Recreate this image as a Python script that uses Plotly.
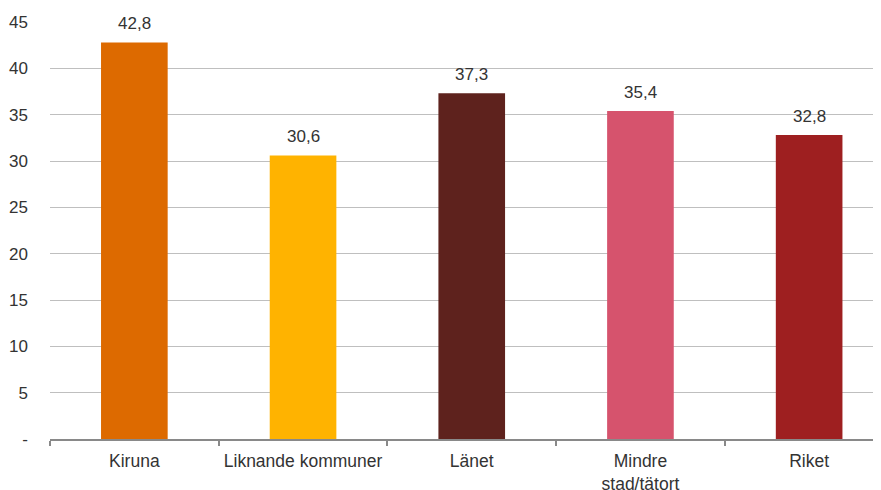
import plotly.graph_objects as go

categories = ["Kiruna", "Liknande kommuner", "Länet", "Mindre<br>stad/tätort", "Riket"]
values = [42.8, 30.6, 37.3, 35.4, 32.8]
labels = ["42,8", "30,6", "37,3", "35,4", "32,8"]
colors = ["#DD6A00", "#FFB300", "#5E221D", "#D6536D", "#9E1F20"]

y_ticks = [0, 5, 10, 15, 20, 25, 30, 35, 40, 45]
y_ticktext = ["-", "5", "10", "15", "20", "25", "30", "35", "40", "45"]

fnt = dict(family="Liberation Sans, Arial, sans-serif", size=17, color="#333333")
xfnt = dict(family="Liberation Sans, Arial, sans-serif", size=17.5, color="#333333")

fig = go.Figure()
fig.add_trace(go.Bar(x=categories, y=values, marker=dict(color=colors, line=dict(width=0)),
                     width=0.395, hoverinfo="skip"))

for c, v, t in zip(categories, values, labels):
    fig.add_annotation(x=c, y=v, text=t, showarrow=False, yanchor="bottom",
                       yshift=7, font=fnt)

# page body has an 8px margin, so the figure is sized/offset to compensate
fig.update_layout(
    width=873, height=482,
    margin=dict(l=42, r=0, t=14, b=51),
    plot_bgcolor="white", paper_bgcolor="white",
    font=fnt, showlegend=False,
    xaxis=dict(range=[-0.5, 4.426], showline=True, linecolor="#898989", linewidth=2,
               ticks="outside", tickson="boundaries", ticklen=5, tickcolor="#898989",
               tickwidth=1.5, showgrid=False, tickfont=xfnt, automargin=False,
               ticklabelstandoff=5),
    yaxis=dict(range=[0, 45], tickvals=y_ticks, ticktext=y_ticktext, showgrid=True,
               gridcolor="#BFBFBF", gridwidth=1.3, zeroline=False, showline=False,
               ticklabelstandoff=21, tickfont=fnt, automargin=False),
)

fig.write_html("out.html")
